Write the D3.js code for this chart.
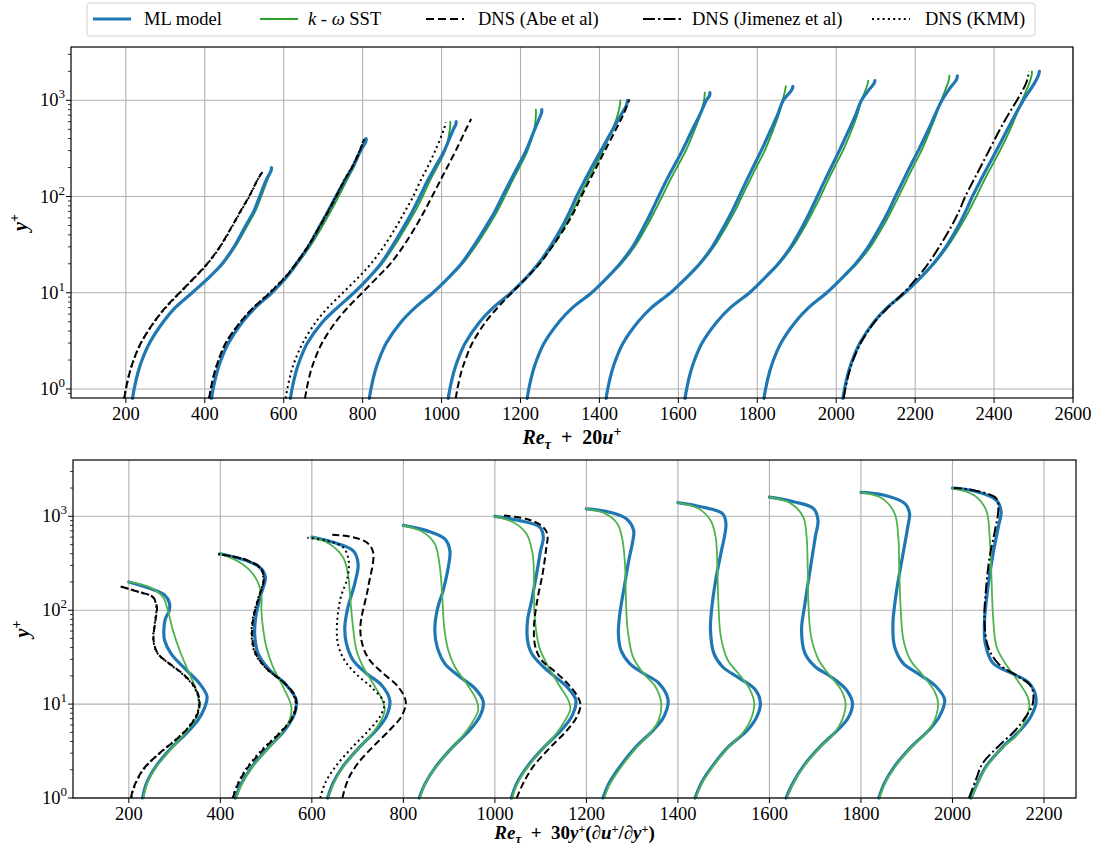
<!DOCTYPE html>
<html lang="en">
<head>
    <meta charset="UTF-8">
    <title>Velocity profiles: ML model vs k-omega SST vs DNS</title>
    <style>
        body { margin: 0; background: #fff; }
    </style>
</head>
<body>
    <svg id="chart" width="1098" height="850" font-family="Liberation Serif, DejaVu Serif, Times New Roman, serif"></svg>

    <script src="https://cdn.jsdelivr.net/npm/d3@7"></script>
    <script>
        // friction Reynolds numbers of the model cases
        const reTau = [200, 400, 600, 800, 1000, 1200, 1400, 1600, 1800, 2000];

        // ---- top panel data: [y+, u+] ----
        const uML = [
            [[0.8,0.85],[1,1.05],[1.5,1.55],[2,2.05],[3,3.0],[5,4.75],[7,6.25],[10,8.4],[15,10.75],[20,12.2],[30,13.7],[50,15.2],[70,16.2],[100,16.95],[150,17.8],[185,18.4],[200,18.45]],
            [[0.8,0.85],[1,1.05],[1.5,1.55],[2,2.05],[3,3.0],[5,4.8],[7,6.4],[10,8.5],[15,10.5],[20,11.6],[30,13.1],[50,14.6],[70,15.6],[100,16.6],[150,17.8],[200,18.7],[300,19.75],[370,20.4],[400,20.45]],
            [[0.8,0.85],[1,1.05],[1.5,1.55],[2,2.05],[3,3.0],[5,4.95],[7,6.8],[10,8.9],[15,11.0],[20,12.3],[30,13.7],[50,15.3],[70,16.3],[100,17.25],[150,18.3],[200,19.15],[300,20.35],[500,21.5],[560,21.8],[600,21.85]],
            [[0.8,0.85],[1,1.05],[1.5,1.55],[2,2.05],[3,3.0],[5,4.9],[7,6.65],[10,8.9],[15,11.1],[20,12.5],[30,14.0],[50,15.7],[70,16.75],[100,17.7],[150,18.8],[200,19.6],[300,20.7],[500,21.8],[700,22.55],[750,22.68],[800,22.7]],
            [[0.8,0.85],[1,1.05],[1.5,1.55],[2,2.05],[3,3.0],[5,4.85],[7,6.55],[10,8.8],[15,10.95],[20,12.25],[30,13.75],[50,15.35],[70,16.25],[100,17.1],[150,18.2],[200,19.0],[300,20.2],[500,21.7],[700,22.7],[900,23.45],[1000,23.55]],
            [[0.8,0.85],[1,1.05],[1.5,1.55],[2,2.05],[3,3.0],[5,4.9],[7,6.6],[10,9.0],[15,11.2],[20,12.6],[30,14.2],[50,15.7],[70,16.6],[100,17.5],[150,18.55],[200,19.35],[300,20.5],[500,21.8],[700,22.7],[1000,23.55],[1120,23.95],[1200,24.0]],
            [[0.8,0.85],[1,1.05],[1.5,1.55],[2,2.05],[3,3.0],[5,4.9],[7,6.6],[10,9.0],[15,11.25],[20,12.7],[30,14.3],[50,15.85],[70,16.8],[100,17.7],[150,18.7],[200,19.45],[300,20.5],[500,21.75],[700,22.55],[1000,23.3],[1200,24.1],[1320,24.45],[1400,24.5]],
            [[0.8,0.85],[1,1.05],[1.5,1.55],[2,2.05],[3,3.0],[5,4.9],[7,6.6],[10,9.0],[15,11.2],[20,12.65],[30,14.25],[50,15.8],[70,16.7],[100,17.6],[150,18.6],[200,19.35],[300,20.4],[500,21.65],[700,22.45],[1000,23.2],[1300,24.2],[1500,24.8],[1600,24.9]],
            [[0.8,0.85],[1,1.05],[1.5,1.55],[2,2.05],[3,3.0],[5,4.85],[7,6.5],[10,8.8],[15,11.0],[20,12.45],[30,14.05],[50,15.65],[70,16.6],[100,17.5],[150,18.55],[200,19.3],[300,20.4],[500,21.7],[700,22.5],[1000,23.4],[1300,24.3],[1650,25.25],[1800,25.35]],
            [[0.8,0.85],[1,1.05],[1.5,1.55],[2,2.05],[3,3.0],[5,4.8],[7,6.45],[10,8.7],[15,10.9],[20,12.3],[30,13.9],[50,15.5],[70,16.4],[100,17.25],[150,18.35],[200,19.15],[300,20.3],[500,21.7],[700,22.65],[1000,23.7],[1500,25.1],[1800,25.6],[2000,25.75]]
        ];

        const uSST = [
            [[0.8,0.85],[1,1.05],[1.5,1.55],[2,2.05],[3,3.0],[5,4.75],[7,6.25],[10,8.35],[15,10.75],[20,12.3],[30,13.85],[50,15.4],[70,16.4],[100,17.15],[150,17.95],[185,18.35],[200,18.4]],
            [[0.8,0.85],[1,1.05],[1.5,1.55],[2,2.05],[3,3.0],[5,4.8],[7,6.4],[10,8.5],[15,10.55],[20,11.75],[30,13.3],[50,14.95],[70,15.95],[100,16.95],[150,18.05],[200,18.85],[300,19.8],[370,20.25],[400,20.3]],
            [[0.8,0.85],[1,1.05],[1.5,1.55],[2,2.05],[3,3.0],[5,4.95],[7,6.8],[10,8.9],[15,11.05],[20,12.45],[30,13.95],[50,15.6],[70,16.65],[100,17.6],[150,18.6],[200,19.4],[300,20.45],[500,21.05],[560,21.1],[600,21.1]],
            [[0.8,0.85],[1,1.05],[1.5,1.55],[2,2.05],[3,3.0],[5,4.9],[7,6.65],[10,8.9],[15,11.15],[20,12.65],[30,14.25],[50,16.0],[70,17.05],[100,18.0],[150,19.05],[200,19.85],[300,20.9],[500,21.75],[700,21.95],[800,21.95]],
            [[0.8,0.85],[1,1.05],[1.5,1.55],[2,2.05],[3,3.0],[5,4.85],[7,6.55],[10,8.8],[15,11.0],[20,12.4],[30,14.0],[50,15.65],[70,16.6],[100,17.5],[150,18.55],[200,19.35],[300,20.45],[500,21.65],[700,22.3],[900,22.6],[1000,22.65]],
            [[0.8,0.85],[1,1.05],[1.5,1.55],[2,2.05],[3,3.0],[5,4.9],[7,6.6],[10,9.0],[15,11.25],[20,12.75],[30,14.45],[50,16.05],[70,17.0],[100,17.95],[150,19.0],[200,19.8],[300,20.95],[500,22.1],[700,22.75],[1000,23.25],[1200,23.35]],
            [[0.8,0.85],[1,1.05],[1.5,1.55],[2,2.05],[3,3.0],[5,4.9],[7,6.6],[10,9.0],[15,11.3],[20,12.8],[30,14.5],[50,16.15],[70,17.15],[100,18.05],[150,19.1],[200,19.85],[300,20.95],[500,22.05],[700,22.7],[1000,23.2],[1300,23.55],[1400,23.6]],
            [[0.8,0.85],[1,1.05],[1.5,1.55],[2,2.05],[3,3.0],[5,4.9],[7,6.6],[10,9.0],[15,11.25],[20,12.75],[30,14.45],[50,16.1],[70,17.05],[100,18.0],[150,19.0],[200,19.75],[300,20.85],[500,22.0],[700,22.65],[1000,23.2],[1300,23.75],[1500,24.0],[1600,24.05]],
            [[0.8,0.85],[1,1.05],[1.5,1.55],[2,2.05],[3,3.0],[5,4.85],[7,6.5],[10,8.8],[15,11.05],[20,12.6],[30,14.35],[50,16.0],[70,16.95],[100,17.9],[150,18.95],[200,19.7],[300,20.8],[500,21.95],[700,22.65],[1000,23.3],[1300,23.85],[1600,24.25],[1800,24.35]],
            [[0.8,0.85],[1,1.05],[1.5,1.55],[2,2.05],[3,3.0],[5,4.8],[7,6.45],[10,8.7],[15,10.95],[20,12.4],[30,14.1],[50,15.8],[70,16.8],[100,17.75],[150,18.8],[200,19.6],[300,20.75],[500,22.05],[700,22.8],[1000,23.55],[1500,24.45],[1800,24.75],[2000,24.8]]
        ];

        const abeRe = [180, 395, 640, 1020];
        const uAbe = [
            [[0.8,0.8],[1,1.0],[1.5,1.5],[2,1.98],[3,2.9],[5,4.6],[7,6.0],[10,7.8],[15,9.9],[20,11.3],[30,12.9],[50,14.5],[70,15.5],[100,16.6],[150,17.7],[180,18.3]],
            [[0.8,0.8],[1,1.0],[1.5,1.5],[2,2.0],[3,2.9],[5,4.8],[7,6.4],[10,8.5],[15,10.6],[20,11.8],[30,13.3],[50,14.9],[70,15.9],[100,16.9],[150,18.0],[200,18.9],[300,19.9],[395,20.45]],
            [[0.8,0.7],[1,0.9],[1.5,1.4],[2,1.9],[3,2.85],[5,4.6],[7,6.1],[10,7.95],[15,10.05],[20,11.5],[30,13.1],[50,14.8],[70,15.8],[100,16.8],[150,17.9],[200,18.7],[300,19.8],[500,21.1],[640,21.75]],
            [[0.8,0.8],[1,1.0],[1.5,1.5],[2,2.0],[3,2.9],[5,4.6],[7,6.1],[10,7.9],[15,10.0],[20,11.4],[30,13.0],[50,14.8],[70,15.8],[100,16.7],[150,17.8],[200,18.6],[300,19.7],[500,21.1],[700,22.0],[1020,22.8]]
        ];

        const kmmRe = [180, 395, 590];
        const uKMM = [
            [[0.8,0.8],[1,1.0],[1.5,1.5],[2,2.0],[3,2.92],[5,4.62],[7,6.05],[10,7.85],[15,9.95],[20,11.35],[30,12.95],[50,14.55],[70,15.55],[100,16.65],[150,17.7],[180,18.25]],
            [[0.8,0.8],[1,1.0],[1.5,1.5],[2,2.0],[3,2.92],[5,4.78],[7,6.38],[10,8.45],[15,10.55],[20,11.75],[30,13.25],[50,14.85],[70,15.85],[100,16.85],[150,17.95],[200,18.85],[300,19.85],[395,20.4]],
            [[0.8,0.75],[1,0.95],[1.5,1.45],[2,1.95],[3,2.9],[5,4.6],[7,6.1],[10,8.0],[15,10.15],[20,11.55],[30,13.15],[50,14.85],[70,15.85],[100,16.9],[150,17.9],[200,18.7],[300,19.7],[500,20.8],[590,21.05]]
        ];

        const jimRe = [2003];
        const uJim = [
            [[0.8,0.8],[1,1.0],[1.5,1.5],[2,2.0],[3,2.95],[5,4.75],[7,6.4],[10,8.4],[15,10.3],[20,11.5],[30,12.9],[50,14.5],[70,15.4],[100,16.2],[150,17.3],[200,18.1],[300,19.2],[500,20.6],[700,21.6],[1000,22.75],[1500,23.9],[1850,24.2],[2003,24.25]]
        ];

        // ---- bottom panel data: [y+, y+ du+/dy+] ----
        const xiML = [
            [[1,1.0],[1.45,1.3],[2.2,2.0],[3.3,3.0],[4.9,4.2],[6.8,5.05],[9,5.5],[12,5.7],[16.6,5.15],[23,4.2],[34,3.1],[48,2.6],[61,2.55],[80,2.65],[100,2.95],[120,2.95],[145,2.6],[170,1.55],[200,0]],
            [[1,1.1],[1.4,1.5],[2.2,2.35],[3.5,3.55],[5.3,4.7],[8,5.42],[11,5.53],[16,4.81],[23,3.59],[35,2.74],[56,2.5],[92,2.62],[150,2.98],[225,3.28],[287,2.87],[338,1.89],[400,0]],
            [[1,1.15],[1.44,1.54],[2.17,2.27],[3.5,3.49],[5.3,4.7],[7.4,5.43],[11,5.68],[16,5.07],[21.2,3.98],[29.4,3.0],[44,2.52],[66,2.4],[108,2.63],[191,3.12],[312,3.37],[431,3.0],[529,1.54],[600,0]],
            [[1,1.15],[1.44,1.6],[2.17,2.38],[3.5,3.6],[5.3,4.84],[7.4,5.57],[10.6,5.82],[14.7,5.21],[19.5,4.12],[27,3.02],[40.7,2.46],[61,2.29],[100,2.46],[163,2.9],[287,3.27],[431,3.39],[574,3.02],[704,1.68],[800,0]],
            [[1,1.2],[1.44,1.6],[2.2,2.4],[3.5,3.6],[5.3,4.85],[7.4,5.6],[11,5.9],[15,5.3],[20,4.3],[25,3.53],[34.6,2.68],[48,2.38],[78,2.38],[127,2.68],[244,3.04],[431,3.33],[598,3.53],[764,3.28],[899,1.82],[1000,0]],
            [[1,1.2],[1.44,1.65],[2.17,2.45],[3.54,3.64],[5.32,4.9],[7.38,5.65],[11.1,5.95],[16.7,5.27],[21.3,4.14],[27.2,3.14],[37.7,2.51],[56.6,2.33],[92.5,2.44],[178,2.76],[341,3.09],[556,3.39],[711,3.44],[946,2.89],[1112,1.63],[1200,0]],
            [[1,1.25],[1.44,1.7],[2.17,2.5],[3.54,3.7],[5.3,5.08],[7.4,5.76],[10.2,6.01],[14.2,5.64],[18.8,4.5],[25,3.25],[34.7,2.62],[61.5,2.37],[100,2.45],[209,2.75],[402,3.13],[834,3.5],[1069,3.25],[1258,1.75],[1400,0]],
            [[1,1.21],[1.44,1.71],[2.17,2.46],[3.54,3.71],[5.3,4.97],[7.1,5.73],[10.2,6.05],[14.2,5.6],[19.6,4.47],[25,3.34],[34.7,2.59],[61.5,2.34],[118,2.59],[267,2.96],[604,3.34],[907,3.54],[1210,3.21],[1422,1.83],[1600,0]],
            [[1,1.3],[1.44,1.71],[2.17,2.45],[3.54,3.7],[5.3,4.96],[7.4,5.72],[11.1,6.1],[15.4,5.47],[21,4.2],[27,3.1],[41,2.45],[72,2.33],[151,2.57],[341,2.98],[771,3.41],[1070,3.54],[1365,3.21],[1675,1.71],[1800,0]],
            [[1,1.35],[1.44,1.82],[2.17,2.45],[3.54,3.7],[5.3,4.96],[7.4,5.72],[11.1,6.1],[16.7,5.6],[21.3,4.34],[27.2,2.96],[44.4,2.39],[78.6,2.34],[178,2.59],[402,2.96],[771,3.34],[1112,3.54],[1480,3.21],[1860,1.58],[2000,0]]
        ];

        const xiSST = [
            [[1,1.05],[1.45,1.35],[2.2,2.05],[3.3,3.05],[5.3,4.3],[7.4,4.96],[10.2,5.1],[14.1,4.91],[23,4.3],[37.5,3.7],[61,3.21],[100,2.84],[138,2.48],[176,1.51],[200,0]],
            [[1,1.15],[1.4,1.55],[2.2,2.4],[3.5,3.6],[4.9,4.44],[6.8,5.05],[9.4,5.17],[15.3,4.57],[25,3.83],[40.6,3.35],[66,3.1],[100,2.99],[150,2.98],[225,2.54],[312,1.58],[400,0]],
            [[1,1.2],[1.44,1.6],[2.17,2.3],[3.5,3.5],[4.5,4.2],[6.3,4.94],[8.6,5.31],[11,5.14],[16.6,4.46],[25,3.73],[37.5,3.25],[66,3.0],[127,2.81],[244,2.63],[367,2.27],[508,1.29],[600,0]],
            [[1,1.2],[1.44,1.6],[2.17,2.4],[3.5,3.6],[4.5,4.27],[6.3,5.0],[8.6,5.45],[11,5.33],[16.6,4.6],[25,3.75],[37.5,3.27],[66,2.97],[127,2.85],[287,2.66],[508,2.29],[676,1.44],[800,0]],
            [[1,1.25],[1.44,1.65],[2.2,2.45],[3.5,3.6],[4.5,4.3],[6.3,5.0],[8.9,5.5],[11,5.35],[16.6,4.6],[25,3.89],[40.7,3.23],[85,2.9],[191,2.85],[398,2.75],[649,2.31],[863,1.34],[1000,0]],
            [[1,1.3],[1.33,1.63],[2,2.39],[3.26,3.51],[4.9,4.65],[6.8,5.27],[10.2,5.45],[15.4,5.02],[21.3,4.14],[32,3.39],[61.5,3.01],[118,2.89],[314,2.81],[556,2.63],[834,2.26],[1069,1.38],[1200,0]],
            [[1,1.3],[1.44,1.75],[2.17,2.55],[3.5,3.7],[4.9,4.7],[6.8,5.3],[10.2,5.56],[14.2,5.26],[20.4,4.5],[29.5,3.63],[52,3.13],[118,2.95],[267,2.88],[604,2.75],[907,2.37],[1210,1.49],[1400,0]],
            [[1,1.28],[1.44,1.75],[2.17,2.5],[3.5,3.7],[4.9,4.72],[6.8,5.3],[10.2,5.55],[14.2,5.22],[19.6,4.47],[29.5,3.59],[52,3.04],[118,2.84],[267,2.79],[604,2.71],[985,2.46],[1365,1.58],[1600,0]],
            [[1,1.35],[1.44,1.75],[2.17,2.5],[3.5,3.7],[4.9,4.74],[6.8,5.37],[10.2,5.62],[13.6,5.37],[20.4,4.49],[29.5,3.6],[48,3.1],[100,2.9],[267,2.79],[604,2.72],[1070,2.46],[1543,1.58],[1800,0]],
            [[1,1.4],[1.44,1.85],[2.17,2.5],[3.5,3.7],[4.5,4.6],[6.3,5.22],[9.4,5.6],[12,5.47],[18.1,4.72],[27.2,3.84],[41,3.21],[85,2.96],[227,2.84],[603,2.71],[1160,2.46],[1675,1.58],[2000,0]]
        ];

        const xiAbe = [
            [[1,0.83],[1.22,0.96],[2,1.69],[3,2.9],[4.2,4.12],[5.8,5.09],[8,5.7],[11,5.82],[15.3,5.46],[21,4.6],[27,3.63],[34.6,2.78],[48,2.47],[78,2.61],[108,2.71],[138,2.42],[156,1.44],[180,0]],
            [[1,1.08],[1.33,1.38],[2,2.06],[3.26,3.27],[4.9,4.49],[6.8,5.34],[9.4,5.7],[12.5,5.58],[17.3,4.73],[24,3.52],[34.6,2.74],[52,2.49],[85,2.59],[138,2.98],[207,3.32],[276,3.15],[344,2.06],[395,0]],
            [[1,0.89],[1.57,1.3],[2.35,2.03],[3.53,3.13],[5.3,4.34],[7.4,5.19],[10.6,5.51],[15.3,4.95],[21.2,3.86],[29.4,2.88],[40.7,2.4],[66,2.2],[176,2.77],[415,3.13],[529,2.64],[608,1.43],[640,0]],
            [[1,0.92],[1.44,1.4],[2.17,2.13],[3.5,3.4],[5.3,4.61],[7.4,5.32],[9.8,5.57],[12,5.37],[16.7,4.61],[23,3.59],[29.4,2.73],[40.7,2.28],[66,2.18],[127,2.42],[244,2.81],[431,3.05],[649,3.15],[795,2.73],[936,1.64],[1020,0]]
        ];

        const xiKMM = [
            [[1,0.85],[1.22,0.98],[2,1.72],[3,2.92],[4.2,4.1],[5.8,5.05],[8,5.65],[11,5.78],[15.3,5.4],[21,4.55],[27,3.6],[34.6,2.76],[48,2.45],[78,2.58],[108,2.68],[138,2.4],[156,1.42],[180,0]],
            [[1,1.05],[1.33,1.35],[2,2.0],[3.26,3.2],[4.9,4.45],[6.8,5.3],[9.4,5.65],[12.5,5.5],[17.3,4.7],[24,3.5],[34.6,2.7],[52,2.45],[85,2.55],[138,2.95],[207,3.3],[276,3.1],[344,2.0],[395,0]],
            [[1,0.95],[1.44,1.3],[2.2,2.1],[3.5,3.3],[5.3,4.5],[7.4,5.3],[10.2,5.6],[15,4.7],[20,3.7],[28,2.8],[40,2.3],[60,2.15],[130,2.4],[230,2.95],[350,3.0],[470,2.6],[550,1.4],[590,0]]
        ];

        const xiJim = [
            [[1,1.1],[1.57,1.61],[2.35,2.11],[3.54,3.24],[5.3,4.5],[7.4,5.26],[10.2,5.76],[15.4,5.63],[20.4,4.5],[27,3.24],[41,2.49],[78.6,2.23],[178,2.36],[370,2.61],[711,3.0],[1159,3.24],[1543,3.11],[1890,1.48],[2003,0]]
        ];

        const topXTicks = [200, 400, 600, 800, 1000, 1200, 1400, 1600, 1800, 2000, 2200, 2400, 2600];
        const bottomXTicks = [200, 400, 600, 800, 1000, 1200, 1400, 1600, 1800, 2000, 2200];
        const yDecades = [0, 1, 2, 3];

        const ML_COLOR = '#1f77b4';
        const SST_COLOR = '#2ca02c';
        const SST_COLOR_LIGHT = '#4eb24e';
        const GRID = '#b0b0b0';
        const SERIF = 'Liberation Serif, DejaVu Serif, Times New Roman, serif';

        const svg = d3.select('#chart');

        function drawPanel(cfg) {
            const x = d3.scaleLinear().domain(cfg.xDomain).range([cfg.left, cfg.right]);
            const y = d3.scaleLog().domain(cfg.yDomain).range([cfg.bottom, cfg.top]);
            const g = svg.append('g').attr('font-family', SERIF);

            // grid
            g.selectAll('.vgrid').data(cfg.xTicks).enter().append('line')
                .attr('x1', d => x(d)).attr('x2', d => x(d))
                .attr('y1', cfg.top).attr('y2', cfg.bottom)
                .attr('stroke', GRID).attr('stroke-width', 1.1);
            const majors = yDecades.map(k => Math.pow(10, k))
                .filter(v => v >= cfg.yDomain[0] && v <= cfg.yDomain[1]);
            g.selectAll('.hgrid').data(majors).enter().append('line')
                .attr('x1', cfg.left).attr('x2', cfg.right)
                .attr('y1', d => y(d)).attr('y2', d => y(d))
                .attr('stroke', GRID).attr('stroke-width', 1.1);

            // curves
            const plot = g.append('g');
            cfg.series.forEach(s => {
                const line = d3.line()
                    .x(d => x(s.re + cfg.factor * d[1]))
                    .y(d => y(d[0]))
                    .curve(d3.curveCatmullRom.alpha(0.5));
                plot.append('path')
                    .attr('d', line(s.pts))
                    .attr('fill', 'none')
                    .attr('stroke', s.color)
                    .attr('stroke-width', s.width)
                    .attr('stroke-dasharray', s.dash || null)
                    .attr('stroke-linecap', s.dash ? 'butt' : 'round')
                    .attr('stroke-linejoin', 'round');
            });

            // frame
            g.append('rect')
                .attr('x', cfg.left).attr('y', cfg.top)
                .attr('width', cfg.right - cfg.left).attr('height', cfg.bottom - cfg.top)
                .attr('fill', 'none').attr('stroke', '#000').attr('stroke-width', 1.2);

            // x ticks
            g.selectAll('.xt').data(cfg.xTicks).enter().append('line')
                .attr('x1', d => x(d)).attr('x2', d => x(d))
                .attr('y1', cfg.bottom).attr('y2', cfg.bottom + 5)
                .attr('stroke', '#000').attr('stroke-width', 1);
            g.selectAll('.xl').data(cfg.xTicks).enter().append('text')
                .attr('x', d => x(d)).attr('y', cfg.bottom + 22)
                .attr('text-anchor', 'middle').attr('font-size', 18.5)
                .text(d => d);

            // y ticks (log, with minor ticks)
            const minors = [];
            d3.range(-1, 4).forEach(k => {
                for (let m = 2; m <= 9; m++) {
                    const v = m * Math.pow(10, k);
                    if (v >= cfg.yDomain[0] && v <= cfg.yDomain[1]) minors.push(v);
                }
            });
            g.selectAll('.ymin').data(minors).enter().append('line')
                .attr('x1', cfg.left - 3).attr('x2', cfg.left)
                .attr('y1', d => y(d)).attr('y2', d => y(d))
                .attr('stroke', '#000').attr('stroke-width', 0.8);
            g.selectAll('.ymaj').data(majors).enter().append('line')
                .attr('x1', cfg.left - 5).attr('x2', cfg.left)
                .attr('y1', d => y(d)).attr('y2', d => y(d))
                .attr('stroke', '#000').attr('stroke-width', 1);
            const yl = g.selectAll('.yl').data(majors).enter().append('text')
                .attr('x', cfg.left - 6).attr('y', d => y(d) + 6)
                .attr('text-anchor', 'end').attr('font-size', 18.5);
            yl.append('tspan').text('10');
            yl.append('tspan').attr('font-size', 13).attr('dy', -8)
                .text(d => Math.round(Math.log10(d)));

            // y label
            const ylab = g.append('text')
                .attr('transform', `translate(${cfg.left - 44},${(cfg.top + cfg.bottom) / 2}) rotate(-90)`)
                .attr('text-anchor', 'middle').attr('font-size', 20)
                .attr('font-weight', 'bold');
            ylab.append('tspan').attr('font-style', 'italic').text('y');
            ylab.append('tspan').attr('font-size', 14).attr('dy', -8).text('+');

            // x label
            const xlab = g.append('text')
                .attr('x', (cfg.left + cfg.right) / 2).attr('y', cfg.bottom + cfg.labelGap)
                .attr('text-anchor', 'middle').attr('font-size', cfg.labelSize)
                .attr('font-weight', 'bold');
            cfg.xLabel(xlab);
        }

        function buildSeries(pts, reList, color, width, dash) {
            return pts.map((p, i) => ({ re: reList[i], pts: p, color, width, dash }));
        }

        // top panel: Re_tau + 20 u+
        drawPanel({
            left: 71, right: 1073, top: 47, bottom: 398, labelGap: 46, labelSize: 20,
            xDomain: [61, 2600], yDomain: [0.806, 3580],
            xTicks: topXTicks, factor: 20,
            series: [
                ...buildSeries(uSST, reTau, SST_COLOR, 1.8),
                ...buildSeries(uML, reTau, ML_COLOR, 3.2),
                ...buildSeries(uKMM, kmmRe, '#000', 2, '2,3.3'),
                ...buildSeries(uAbe, abeRe, '#000', 2, '7,3.5'),
                ...buildSeries(uJim, jimRe, '#000', 2, '11,3,2,3')
            ],
            xLabel: t => {
                t.append('tspan').attr('font-style', 'italic').text('Re');
                t.append('tspan').attr('font-size', 14).attr('dy', 5).attr('font-style', 'italic').text('τ');
                t.append('tspan').attr('dy', -5).text('\u2002+\u200220');
                t.append('tspan').attr('font-style', 'italic').text('u');
                t.append('tspan').attr('font-size', 14).attr('dy', -8).text('+');
            }
        });

        // bottom panel: Re_tau + 30 y+ du+/dy+
        drawPanel({
            left: 73, right: 1076, top: 460, bottom: 798, labelGap: 41, labelSize: 19,
            xDomain: [78, 2270], yDomain: [1, 3980],
            xTicks: bottomXTicks, factor: 30,
            series: [
                ...buildSeries(xiML, reTau, ML_COLOR, 3.2),
                ...buildSeries(xiSST, reTau, SST_COLOR_LIGHT, 1.8),
                ...buildSeries(xiKMM, kmmRe, '#000', 2, '2,3.3'),
                ...buildSeries(xiAbe, abeRe, '#000', 2, '7,3.5'),
                ...buildSeries(xiJim, jimRe, '#000', 2, '11,3,2,3')
            ],
            xLabel: t => {
                t.append('tspan').attr('font-style', 'italic').text('Re');
                t.append('tspan').attr('font-size', 13).attr('dy', 4).attr('font-style', 'italic').text('τ');
                t.append('tspan').attr('dy', -4).text('\u2002+\u200230');
                t.append('tspan').attr('font-style', 'italic').text('y');
                t.append('tspan').attr('font-size', 12).attr('dy', -6).text('+');
                t.append('tspan').attr('dy', 6).text('(∂');
                t.append('tspan').attr('font-style', 'italic').text('u');
                t.append('tspan').attr('font-size', 12).attr('dy', -6).text('+');
                t.append('tspan').attr('dy', 6).text('/∂');
                t.append('tspan').attr('font-style', 'italic').text('y');
                t.append('tspan').attr('font-size', 12).attr('dy', -6).text('+');
                t.append('tspan').attr('dy', 6).text(')');
            }
        });

        // legend
        const legendItems = [
            { label: 'ML model', color: ML_COLOR, width: 3.2, x: 93, tx: 144 },
            { label: 'SST', color: SST_COLOR, width: 1.8, x: 260, tx: 308 },
            { label: 'DNS (Abe et al)', color: '#000', width: 2, dash: '8,4', x: 426, tx: 478 },
            { label: 'DNS (Jimenez et al)', color: '#000', width: 2, dash: '12,3,2.5,3', x: 643, tx: 692 },
            { label: 'DNS (KMM)', color: '#000', width: 2, dash: '2,3.3', x: 872, tx: 925 }
        ];
        const legend = svg.append('g').attr('font-family', SERIF);
        legend.append('rect')
            .attr('x', 87).attr('y', 3).attr('width', 948).attr('height', 33)
            .attr('rx', 3).attr('fill', '#fff').attr('stroke', '#d0d0d0').attr('stroke-width', 1);
        legendItems.forEach(it => {
            legend.append('line')
                .attr('x1', it.x).attr('x2', it.x + 38)
                .attr('y1', 19).attr('y2', 19)
                .attr('stroke', it.color).attr('stroke-width', it.width)
                .attr('stroke-dasharray', it.dash || null);
            const t = legend.append('text')
                .attr('x', it.tx).attr('y', 25).attr('font-size', 18.5);
            if (it.label === 'SST') {
                t.append('tspan').attr('font-style', 'italic').text('k');
                t.append('tspan').text(' - ');
                t.append('tspan').attr('font-style', 'italic').text('ω');
                t.append('tspan').text(' SST');
            } else {
                t.text(it.label);
            }
        });
    </script>
</body>
</html>
